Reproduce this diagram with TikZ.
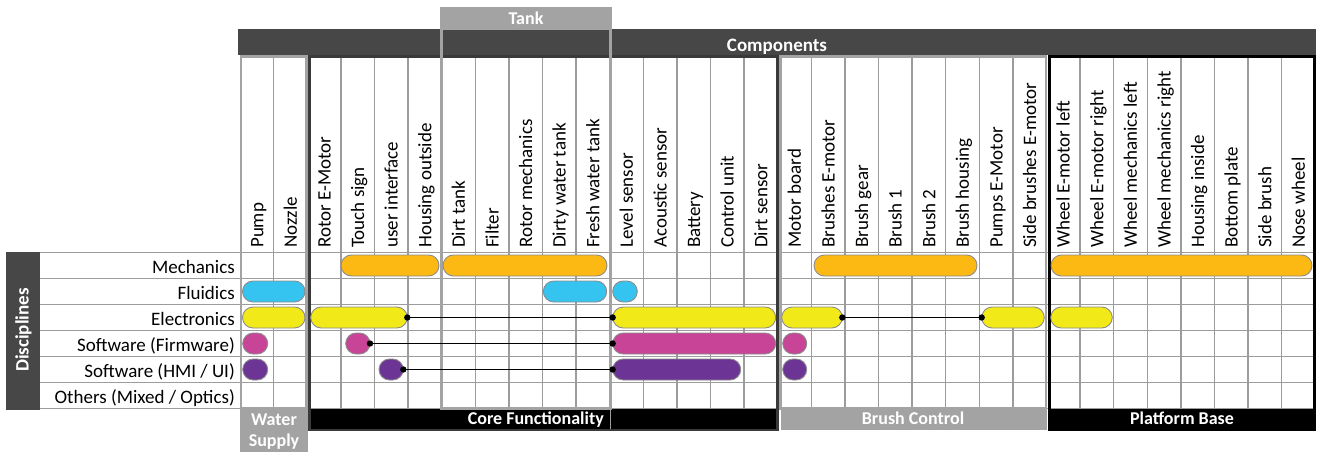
\documentclass[tikz,border=0pt]{standalone}
\usepackage{fontspec}
\setmainfont{Carlito}
\usetikzlibrary{shapes.misc}
\definecolor{hdr}{HTML}{474747}
\definecolor{lgray}{HTML}{A3A3A3}
\definecolor{gridc}{HTML}{9C9C9C}
\definecolor{coreline}{HTML}{3A3A3A}
\definecolor{barline}{HTML}{8C8C8C}
\definecolor{cOrange}{HTML}{FDB913}
\definecolor{cCyan}{HTML}{35C3F0}
\definecolor{cYellow}{HTML}{F2E918}
\definecolor{cMagenta}{HTML}{C84496}
\definecolor{cPurple}{HTML}{6C3595}
\tikzset{
  colhead/.style={rotate=90, anchor=base west, inner sep=0pt, font=\fontsize{19}{21}\selectfont},
  rowlab/.style={anchor=base east, inner sep=0pt, font=\fontsize{19}{21}\selectfont},
  bandtxt/.style={inner sep=0pt, text=white, font=\bfseries\fontsize{18}{20}\selectfont},
  gridline/.style={draw=gridc, line width=1.4pt},
  pill/.style={rounded rectangle, draw=barline, line width=0.9pt, minimum height=21pt, inner sep=0pt, outer sep=0pt},
  conn/.style={draw=black, line width=1.6pt},
  dotc/.style={fill=black},
  grpgray/.style={draw=lgray, line width=2.5pt},
  grpdark/.style={draw=coreline, line width=2.5pt},
  grpblack/.style={draw=black, line width=2.5pt}
}
\begin{document}
\begin{tikzpicture}[x=1pt,y=-1pt]
\useasboundingbox[fill=white] (0,0) rectangle (1318,452);
% header bands
\fill[hdr] (237.5,29.5) rectangle (1316,55.5);
\node[bandtxt, font=\bfseries\fontsize{19}{21}\selectfont, anchor=base] (comp) at (777,51.5) {Components};
\fill[lgray] (441,8) rectangle (611,30);
\node[bandtxt, anchor=base] (tank) at (526,25) {Tank};
% disciplines box
\fill[hdr] (6,252) rectangle (40,410);
\node[bandtxt, font=\bfseries\fontsize{19}{21}\selectfont, rotate=90, anchor=base] (disc) at (28.5,330) {Disciplines};
% grid
\foreach \i in {1,...,31} \draw[gridline] ({240+33.6*\i},56) -- ({240+33.6*\i},408.5);
\foreach \k in {0,...,6} \draw[gridline] (40,{252.5+26*\k}) -- (1315.2,{252.5+26*\k});
% column headers
\foreach \t [count=\i from 0] in {Pump, Nozzle, Rotor E-Motor, Touch sign, user interface, Housing outside, Dirt tank, Filter, Rotor mechanics, Dirty water tank, Fresh water tank, Level sensor, Acoustic sensor, Battery, Control unit, Dirt sensor, Motor board, Brushes E-motor, Brush gear, Brush 1, Brush 2, Brush housing, Pumps E-Motor, Side brushes E-motor, Wheel E-motor left, Wheel E-motor right, Wheel mechanics left, Wheel mechanics right, Housing inside, Bottom plate, Side brush, Nose wheel}
  \node[colhead] (col\i) at ({240+33.6*\i+16.8+6.5},248) {\t};
% row labels
\node[rowlab] (r1) at (235,273.8) {Mechanics};
\node[rowlab] (r2) at (235,299.8) {Fluidics};
\node[rowlab] (r3) at (235,325.8) {Electronics};
\node[rowlab] (r4) at (235,351.8) {Software (Firmware)};
\node[rowlab] (r5) at (235,377.8) {Software (HMI / UI)};
\node[rowlab] (r6) at (235,403.8) {Others (Mixed / Optics)};
% bottom bands
\fill[black] (309.5,408.5) rectangle (777.5,430);
\fill[lgray] (780.5,408.5) rectangle (1046.5,430);
\fill[black] (1049.5,408.5) rectangle (1314.5,430);
\fill[lgray] (240,408.5) rectangle (308,452);
\draw[draw=gridc, line width=1.2pt] (610.5,408.5) -- (610.5,430);
\node[bandtxt, anchor=base east] (core) at (604,424.5) {Core Functionality};
\node[bandtxt, anchor=base] (brush) at (913,424.5) {Brush Control};
\node[bandtxt, anchor=base] (plat) at (1182,424.5) {Platform Base};
\node[bandtxt, anchor=base] (water1) at (274,425.5) {Water};
\node[bandtxt, anchor=base] (water2) at (274,446.5) {Supply};
% group outlines
\draw[grpgray] (241.2,56.7) rectangle (306.3,408.5);
\draw[grpdark] (309.7,56.7) rectangle (777.4,430);
\draw[grpgray] (780.6,56.7) rectangle (1046.2,408.5);
\draw[grpblack] (1049.5,56.7) rectangle (1314.6,430);
\draw[grpgray] (441.6,8) rectangle (610.4,408.5);
% pills
\node[pill, fill=cOrange, minimum width=98pt] (M1) at (390,265.5) {};
\node[pill, fill=cOrange, minimum width=164pt] (M2) at (525,265.5) {};
\node[pill, fill=cOrange, minimum width=163pt] (M3) at (895.5,265.5) {};
\node[pill, fill=cOrange, minimum width=261pt] (M4) at (1181.5,265.5) {};
\node[pill, fill=cCyan, minimum width=62.5pt] (F1) at (273.75,291.5) {};
\node[pill, fill=cCyan, minimum width=63.4pt] (F2) at (575,291.5) {};
\node[pill, fill=cCyan, minimum width=24.6pt] (F3) at (625,291.5) {};
\node[pill, fill=cYellow, minimum width=62.5pt] (E1) at (273.75,317.5) {};
\node[pill, fill=cYellow, minimum width=96.6pt] (E2) at (359,317.5) {};
\node[pill, fill=cYellow, minimum width=163pt] (E3) at (694.2,317.5) {};
\node[pill, fill=cYellow, minimum width=60.6pt] (E4) at (812,317.5) {};
\node[pill, fill=cYellow, minimum width=62.6pt] (E5) at (1013,317.5) {};
\node[pill, fill=cYellow, minimum width=61.6pt] (E6) at (1081.5,317.5) {};
\node[pill, fill=cMagenta, minimum width=25pt] (W1) at (255.2,343.5) {};
\node[pill, fill=cMagenta, minimum width=24.3pt] (W2) at (357.85,343.5) {};
\node[pill, fill=cMagenta, minimum width=163pt] (W3) at (694.2,343.5) {};
\node[pill, fill=cMagenta, minimum width=24pt] (W4) at (794.7,343.5) {};
\node[pill, fill=cPurple, minimum width=25pt] (H1) at (255.2,369.5) {};
\node[pill, fill=cPurple, minimum width=24.3pt] (H2) at (391.15,369.5) {};
\node[pill, fill=cPurple, minimum width=128pt] (H3) at (676.7,369.5) {};
\node[pill, fill=cPurple, minimum width=24pt] (H4) at (794.7,369.5) {};
% connectors
\draw[conn] (E2.east) -- (E3.west);
\draw[conn] (E4.east) -- (E5.west);
\draw[conn] (W2.east) -- (W3.west);
\draw[conn] (H2.east) -- (H3.west);
\foreach \n in {E2.east,E3.west,E4.east,E5.west,W2.east,W3.west,H2.east,H3.west}
  \fill[dotc] (\n) circle[radius=3.2pt];
\end{tikzpicture}
\end{document}
